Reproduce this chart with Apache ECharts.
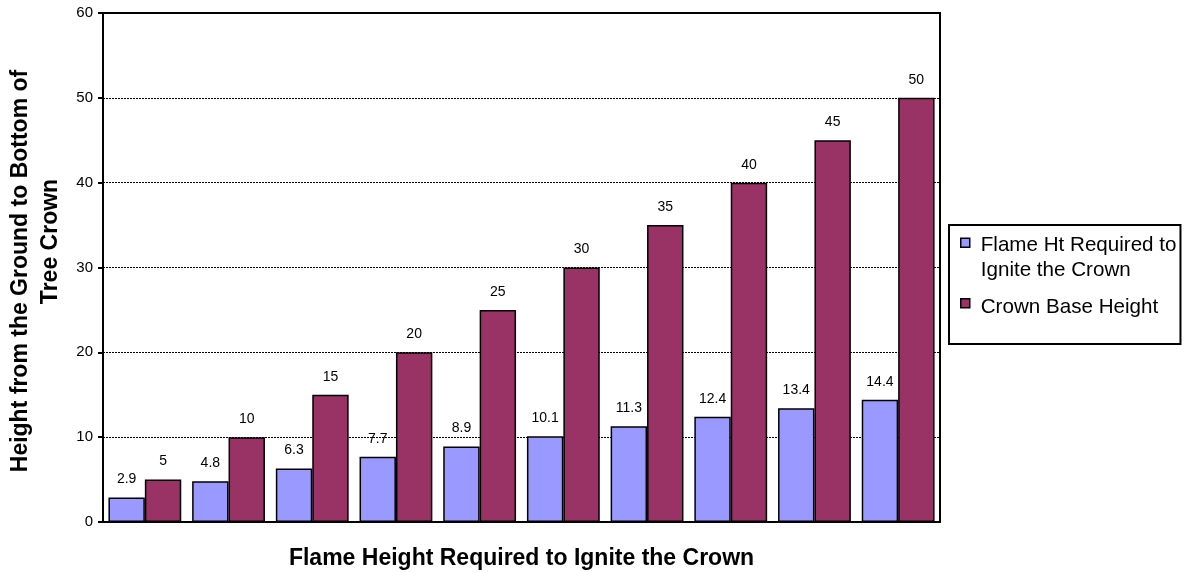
<!DOCTYPE html>
<html>
<head>
<meta charset="utf-8">
<script src="https://cdn.jsdelivr.net/npm/echarts@6/dist/echarts.min.js"></script>
<style>
html,body{margin:0;padding:0;background:#fff;}
#chart{width:1186px;height:573px;}
</style>
</head>
<body>
<div id="chart"></div>
<script>
// Crown base heights and the flame heights needed to reach them
const categories = ['5', '10', '15', '20', '25', '30', '35', '40', '45', '50'];
const flameHt = [2.9, 4.8, 6.3, 7.7, 8.9, 10.1, 11.3, 12.4, 13.4, 14.4];
const crownBase = [5, 10, 15, 20, 25, 30, 35, 40, 45, 50];
const yTicks = [0, 10, 20, 30, 40, 50, 60];
const seriesNames = ['Flame Ht Required to Ignite the Crown', 'Crown Base Height'];

const FONT = '"Liberation Sans", Arial, sans-serif';

const chart = echarts.init(document.getElementById('chart'), null, { renderer: 'canvas' });

const labelStyle = {
  show: true,
  position: 'top',
  distance: 11,
  color: '#000',
  fontFamily: FONT,
  fontSize: 14
};

// Legend swatches: a 9px square inside a tall 9x50 frame, so the square
// sits beside the first line of a wrapped legend entry.
const swatchTop = 'path://M0,0 M0,5 L9,5 L9,14 L0,14 Z M9,50';
const swatchMid = 'path://M0,0 M0,16.5 L9,16.5 L9,25.5 L0,25.5 Z M9,50';

chart.setOption({
  animation: false,
  backgroundColor: '#fff',
  grid: {
    left: 103, top: 13, right: 246, bottom: 51,
    containLabel: false,
    outerBoundsMode: 'none',
    show: true, borderColor: '#000', borderWidth: 2, backgroundColor: 'transparent'
  },
  legend: {
    orient: 'vertical',
    left: 949, top: 225,
    borderColor: '#000', borderWidth: 2,
    padding: [7.5, 4, 11, 11],
    itemGap: -2.5,
    itemWidth: 9, itemHeight: 50,
    itemStyle: { borderColor: '#000', borderWidth: 1.5 },
    textStyle: { fontFamily: FONT, fontSize: 20.6, color: '#000', lineHeight: 25, padding: [0, 0, 0, 6] },
    formatter: function (n) {
      return n === seriesNames[0] ? 'Flame Ht Required to\nIgnite the Crown' : n;
    },
    data: [
      { name: seriesNames[0], icon: swatchTop },
      { name: seriesNames[1], icon: swatchMid }
    ]
  },
  xAxis: {
    type: 'category',
    data: categories,
    name: 'Flame Height Required to Ignite the Crown',
    nameLocation: 'middle',
    nameGap: 25,
    nameTextStyle: { fontFamily: FONT, fontSize: 23, fontWeight: 'bold', color: '#000' },
    axisLine: { lineStyle: { color: '#000', width: 2 } },
    axisTick: { show: false },
    axisLabel: { show: false }
  },
  yAxis: {
    type: 'value',
    min: yTicks[0],
    max: yTicks[yTicks.length - 1],
    interval: 10,
    name: '{a|Height from the Ground to Bottom of}\n{b|Tree Crown}',
    nameLocation: 'middle',
    nameGap: 35,
    nameTextStyle: {
      fontFamily: FONT, fontSize: 23, fontWeight: 'bold', color: '#000', lineHeight: 30,
      padding: [0, 7, 0, 0],
      rich: {
        a: { fontFamily: FONT, fontSize: 23, fontWeight: 'bold', color: '#000', lineHeight: 30 },
        b: { fontFamily: FONT, fontSize: 23, fontWeight: 'bold', color: '#000', lineHeight: 30, padding: [0, 0, 0, 59] }
      }
    },
    axisLine: { show: true, lineStyle: { color: '#000', width: 2 } },
    axisTick: { show: true, length: 5, lineStyle: { color: '#000', width: 2 } },
    axisLabel: {
      fontFamily: FONT, fontSize: 15, color: '#000', margin: 10,
      formatter: function (v) { return yTicks.indexOf(v) >= 0 ? String(v) : ''; }
    },
    splitLine: { show: true, lineStyle: { color: '#000', width: 1, type: [2, 1] } }
  },
  series: [
    {
      name: seriesNames[0],
      type: 'bar',
      data: flameHt,
      barGap: '0%',
      barCategoryGap: '13%',
      itemStyle: { color: '#9999FF', borderColor: '#000', borderWidth: 1.5 },
      label: labelStyle
    },
    {
      name: seriesNames[1],
      type: 'bar',
      data: crownBase,
      barGap: '0%',
      barCategoryGap: '13%',
      itemStyle: { color: '#993366', borderColor: '#000', borderWidth: 1.5 },
      label: labelStyle
    }
  ]
});
</script>
</body>
</html>
